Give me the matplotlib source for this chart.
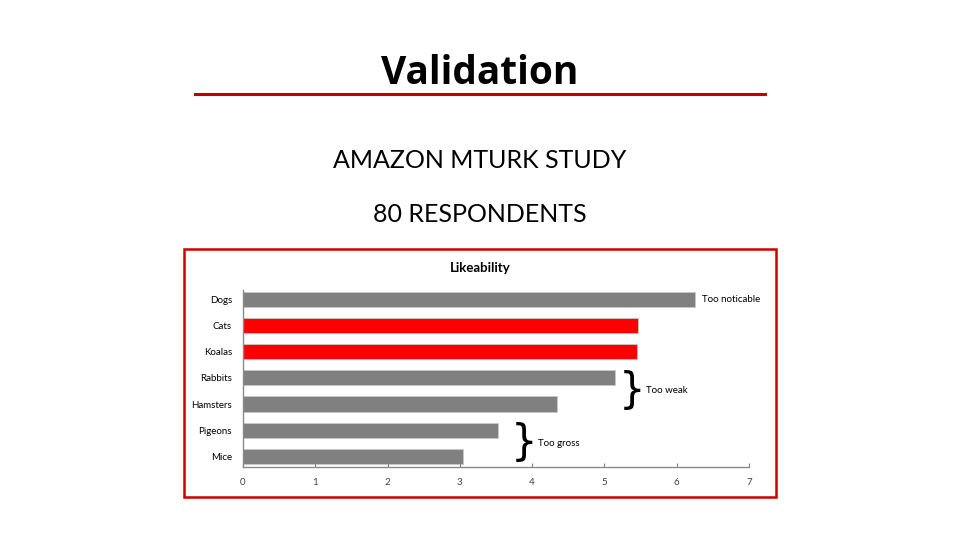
import matplotlib.pyplot as plt
from matplotlib.patches import Rectangle
from matplotlib.lines import Line2D

animals = ["Dogs", "Cats", "Koalas", "Rabbits", "Hamsters", "Pigeons", "Mice"]
likeability = [6.25, 5.46, 5.45, 5.15, 4.34, 3.53, 3.04]
bar_colors = ["#808080", "#ff0000", "#ff0000", "#808080", "#808080", "#808080", "#808080"]
xticks = [0, 1, 2, 3, 4, 5, 6, 7]

W, H = 960, 540
fig = plt.figure(figsize=(9.6, 5.4), dpi=100)


def fx(px):
    return px / W


def fy(py):
    return 1 - py / H


# slide header
fig.text(0.5, fy(73), "Validation", ha="center", va="center",
         fontsize=28, fontweight="bold", family="Open Sans")
fig.add_artist(Line2D([fx(195), fx(765)], [fy(94), fy(94)], color="#c00000", lw=2.2))
fig.text(0.5, fy(161), "AMAZON MTURK STUDY", ha="center", va="center",
         fontsize=18, family="Lato")
fig.text(0.5, fy(215), "80 RESPONDENTS", ha="center", va="center",
         fontsize=18, family="Lato")

# red frame around the chart
fig.add_artist(Rectangle((fx(184), fy(497)), fx(776) - fx(184), fy(249) - fy(497),
                         fill=False, edgecolor="#cc0000", lw=1.8))

ax = fig.add_axes([fx(243), fy(467), fx(749) - fx(243), fy(290) - fy(467)])
ypos = list(range(len(animals) - 1, -1, -1))
ax.barh(ypos, likeability, height=0.58, color=bar_colors, edgecolor="#c8c8c8", lw=0.6)
ax.set_xlim(0, 7)
ax.set_ylim(-0.4, 6.35)
ax.set_xticks(xticks)
ax.set_yticks(ypos)
ax.set_yticklabels(animals)
ax.tick_params(axis="y", length=0, labelsize=7, pad=8)
ax.tick_params(axis="x", direction="in", length=3, labelsize=7, pad=8,
               color="#808080", labelcolor="#404040")
for lab in ax.get_xticklabels() + ax.get_yticklabels():
    lab.set_family("Lato")
for s in ["top", "right"]:
    ax.spines[s].set_visible(False)
for s in ["left", "bottom"]:
    ax.spines[s].set_color("#8a8a8a")
    ax.spines[s].set_linewidth(1.0)

fig.text(0.5, fy(268), "Likeability", ha="center", va="center",
         fontsize=9.5, fontweight="bold", family="Lato")

# annotations
ax.text(6.35, ypos[0], "Too noticable", va="center", fontsize=7, family="Lato")
ax.text(5.2, (ypos[3] + ypos[4]) / 2, "}", va="center", ha="left", fontsize=30,
        family="DejaVu Sans")
ax.text(5.58, (ypos[3] + ypos[4]) / 2, "Too weak", va="center", fontsize=7, family="Lato")
ax.text(3.71, (ypos[5] + ypos[6]) / 2, "}", va="center", ha="left", fontsize=30,
        family="DejaVu Sans")
ax.text(4.08, (ypos[5] + ypos[6]) / 2, "Too gross", va="center", fontsize=7, family="Lato")

fig.savefig("out.png", dpi=100)
